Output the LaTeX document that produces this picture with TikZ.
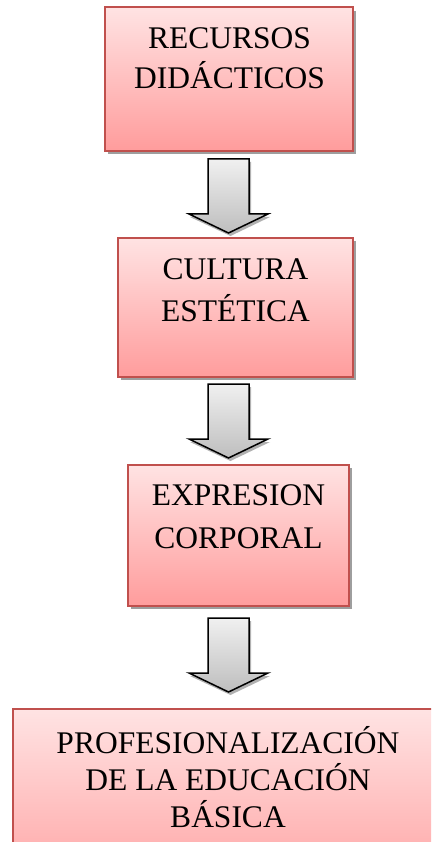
\documentclass[tikz,border=0pt]{standalone}
\usepackage{fontspec}
\setmainfont{Liberation Serif}
\begin{document}
\begin{tikzpicture}[x=1pt,y=-1pt,
  box/.style={draw=boxborder, line width=1.4pt, top color=boxtop, bottom color=boxbot, shading angle=0},
  boxshadow/.style={fill=shadowgrey},
  blockarrow/.style={draw=black, line width=1.5pt, line join=miter, top color=arrtop, bottom color=arrbot},
  arrowshadow/.style={fill=shadowgrey!80},
  lbl/.style={anchor=base, inner sep=0pt, font=\fontsize{31.5}{40}\selectfont}
]
\definecolor{boxborder}{HTML}{C0504D}
\definecolor{boxtop}{HTML}{FFE3E3}
\definecolor{boxbot}{HTML}{FF9C9C}
\definecolor{shadowgrey}{HTML}{9E9E9E}
\definecolor{arrtop}{HTML}{F0F0F0}
\definecolor{arrbot}{HTML}{BEBEBE}
\useasboundingbox (0,0) rectangle (431,842);
\clip (0,0) rectangle (431,842);
\fill[white] (0,0) rectangle (431,842);

% box 1
\fill[boxshadow] (108,11) rectangle (356,154);
\draw[box] (105,7) rectangle (353,151);
\node[lbl] (t1a) at (229.5,49) {RECURSOS};
\node[lbl] (t1b) at (229.5,89) {DIDÁCTICOS};

% arrow 1
\fill[arrowshadow] (210,162) -- (251,162) -- (251,217) -- (270,217) -- (230.5,236) -- (190,217) -- (210,217) -- cycle;
\draw[blockarrow] (208,159) -- (249,159) -- (249,214) -- (268,214) -- (228.5,233) -- (189,214) -- (208,214) -- cycle;

% box 2
\fill[boxshadow] (121,241) rectangle (356,380);
\draw[box] (118,238) rectangle (353,377);
\node[lbl] (t2a) at (235.5,279) {CULTURA};
\node[lbl] (t2b) at (235.5,321) {ESTÉTICA};

% arrow 2
\fill[arrowshadow] (210,387) -- (251,387) -- (251,442) -- (270,442) -- (230.5,461) -- (190,442) -- (210,442) -- cycle;
\draw[blockarrow] (208,384) -- (249,384) -- (249,439) -- (268,439) -- (228.5,458) -- (189,439) -- (208,439) -- cycle;

% box 3
\fill[boxshadow] (131,468) rectangle (352,609);
\draw[box] (128,465) rectangle (349,606);
\node[lbl] (t3a) at (238.5,505) {EXPRESION};
\node[lbl] (t3b) at (238.5,548) {CORPORAL};

% arrow 3
\fill[arrowshadow] (210,621) -- (251,621) -- (251,676) -- (270,676) -- (230.5,695) -- (190,676) -- (210,676) -- cycle;
\draw[blockarrow] (208,618) -- (249,618) -- (249,673) -- (268,673) -- (228.5,692) -- (189,673) -- (208,673) -- cycle;

% box 4
\draw[box, bottom color=boxbot!85!boxtop] (13,709) rectangle (443,880);
\node[lbl] (t4a) at (228,753) {PROFESIONALIZACIÓN};
\node[lbl] (t4b) at (228,790) {DE LA EDUCACIÓN};
\node[lbl] (t4c) at (228,827) {BÁSICA};
\end{tikzpicture}
\end{document}
